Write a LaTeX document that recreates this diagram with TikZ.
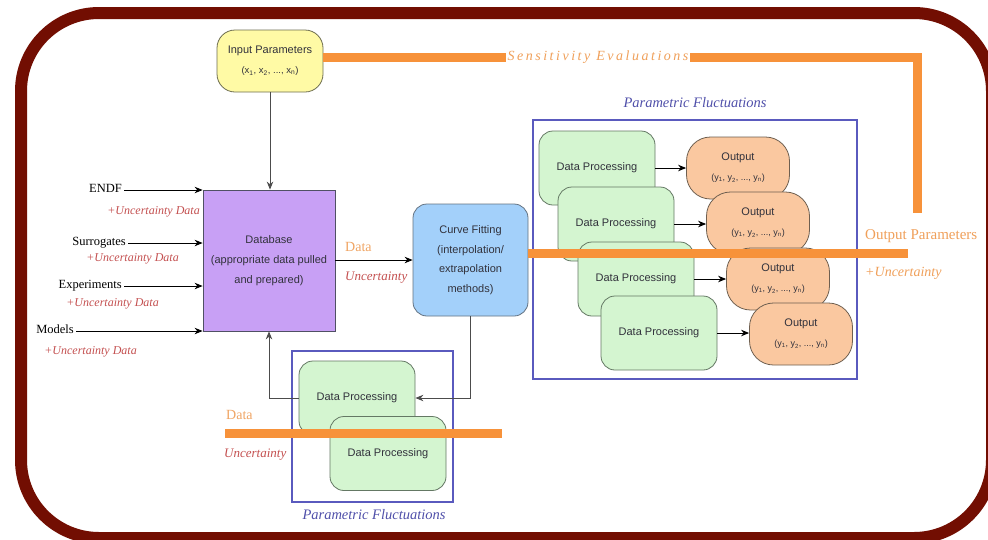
\documentclass[tikz,border=0pt]{standalone}
\usepackage{fontspec}
\setmainfont{Liberation Serif}
\setsansfont{Liberation Sans}
\newfontfamily\spacedserif[LetterSpace=18]{Liberation Serif}
\usetikzlibrary{arrows.meta}
\definecolor{framered}{RGB}{114,14,2}
\definecolor{barorange}{RGB}{247,146,58}
\definecolor{sensorange}{RGB}{240,160,90}
\definecolor{dataorange}{RGB}{240,165,100}
\definecolor{uncred}{RGB}{196,80,80}
\definecolor{pfblue}{RGB}{80,80,170}
\definecolor{pfbox}{RGB}{90,90,190}
\definecolor{dpfill}{RGB}{212,245,208}
\definecolor{dpline}{RGB}{100,120,100}
\definecolor{outfill}{RGB}{250,200,160}
\definecolor{outline}{RGB}{110,95,80}
\definecolor{dbfill}{RGB}{200,160,245}
\definecolor{dbline}{RGB}{80,80,100}
\definecolor{cffill}{RGB}{163,208,250}
\definecolor{cfline}{RGB}{100,115,130}
\definecolor{inpfill}{RGB}{255,250,165}
\definecolor{inpline}{RGB}{110,110,80}
\definecolor{boxtext}{RGB}{50,50,60}
\tikzset{
  boxfont/.style={font=\sffamily\fontsize{11}{20}\selectfont, text=boxtext, align=center, inner sep=0pt},
  dpbox/.style={boxfont, draw=dpline, fill=dpfill, rounded corners=14pt, minimum width=116pt, minimum height=74pt, line width=0.8pt},
  outbox/.style={boxfont, draw=outline, fill=outfill, rounded corners=24pt, minimum width=103pt, minimum height=62pt, line width=0.8pt},
  orangebar/.style={draw=barorange, line width=9pt},
  arr/.style={-{Stealth[length=8pt,width=6.5pt]}, line width=0.9pt, draw=black},
  grayarr/.style={-{Stealth[length=8pt,width=6.5pt]}, line width=0.9pt, draw=black!70},
  srclbl/.style={font=\fontsize{12.5}{14}\selectfont, inner sep=2pt, anchor=base east},
  unclbl/.style={text=uncred, font=\itshape\fontsize{12}{14}\selectfont, inner sep=0pt},
  datalbl/.style={text=dataorange, font=\fontsize{14}{16}\selectfont, inner sep=0pt},
  pfbox/.style={draw=pfbox, line width=2.2pt},
  pflbl/.style={text=pfblue, font=\itshape\fontsize{14.5}{16}\selectfont, inner sep=0pt},
  outlbl/.style={text=sensorange, inner sep=0pt, anchor=west}
}
\begin{document}
\begin{tikzpicture}[x=1pt,y=-1pt]
\useasboundingbox (0,0) rectangle (988,539);
\fill[white] (0,0) rectangle (988,539);
% frame
\draw[framered, line width=12pt, rounded corners=78pt] (21,13) rectangle (992,538);

% input parameters
\node[boxfont, draw=inpline, fill=inpfill, rounded corners=18pt, minimum width=106pt, minimum height=62pt, line width=0.8pt] (inp) at (270,61) {Input Parameters\\{\fontsize{9.5}{20}\selectfont (x\textsubscript{1}, x\textsubscript{2}, ..., x\textsubscript{n})}};

% sensitivity bar
\coordinate (tr) at (917,57);
\coordinate (vb) at (917,213);
\draw[orangebar, line join=miter] (inp.east |- tr) -- (tr) -- (vb);
\node[fill=white, inner sep=2pt, text=sensorange, font=\spacedserif\itshape\fontsize{14}{16}\selectfont] (sens) at (598,57) {Sensitivity Evaluations};

% database
\node[boxfont, draw=dbline, fill=dbfill, minimum width=132pt, minimum height=141pt, line width=0.8pt] (db) at (269,260.5) {Database\\(appropriate data pulled\\and prepared)};
\draw[grayarr] (inp.south) -- (inp.south |- db.north);

% sources
\node[srclbl] (endf) at (124,192) {ENDF};
\node[srclbl] (sur) at (128,245) {Surrogates};
\node[srclbl] (exp) at (124,288) {Experiments};
\node[srclbl] (mod) at (76,333) {Models};
\draw[arr] ([yshift=2pt]endf.base east) -- ([yshift=2pt]endf.base east -| db.west);
\draw[arr] ([yshift=2pt]sur.base east) -- ([yshift=2pt]sur.base east -| db.west);
\draw[arr] ([yshift=2pt]exp.base east) -- ([yshift=2pt]exp.base east -| db.west);
\draw[arr] ([yshift=2pt]mod.base east) -- ([yshift=2pt]mod.base east -| db.west);
\node[unclbl, anchor=east] (u1) at (200,212) {+Uncertainty Data};
\node[unclbl, anchor=east] (u2) at (179,259) {+Uncertainty Data};
\node[unclbl, anchor=east] (u3) at (159,304) {+Uncertainty Data};
\node[unclbl, anchor=east] (u4) at (137,352) {+Uncertainty Data};

% curve fitting
\node[boxfont, draw=cfline, fill=cffill, rounded corners=14pt, minimum width=115pt, minimum height=112pt, line width=0.8pt, font=\sffamily\fontsize{11}{19.5}\selectfont] (cf) at (470.5,260) {Curve Fitting\\(interpolation/\\extrapolation\\methods)};
\draw[arr] (db.east |- cf.west) -- (cf.west);
\node[datalbl, anchor=west] (d1) at (345,247) {Data};
\node[unclbl, anchor=west, font=\itshape\fontsize{13}{14}\selectfont] (un1) at (345,278) {Uncertainty};

% upper parametric fluctuations
\draw[pfbox] (533,120) rectangle (857,379);
\node[pflbl] (pf1) at (695,103) {Parametric Fluctuations};
\node[dpbox] (p1) at (597,168) {Data Processing};
\node[outbox] (o1) at (738,168) {Output\\{\fontsize{9}{20}\selectfont (y\textsubscript{1}, y\textsubscript{2}, ..., y\textsubscript{n})}};
\draw[arr] (p1.east) -- (p1.east -| o1.west);
\node[dpbox] (p2) at (616,224) {Data Processing};
\node[outbox] (o2) at (758,223) {Output\\{\fontsize{9}{20}\selectfont (y\textsubscript{1}, y\textsubscript{2}, ..., y\textsubscript{n})}};
\draw[arr] (p2.east) -- (p2.east -| o2.west);
\node[dpbox] (p3) at (636,279) {Data Processing};
\node[outbox] (o3) at (778,279) {Output\\{\fontsize{9}{20}\selectfont (y\textsubscript{1}, y\textsubscript{2}, ..., y\textsubscript{n})}};
\draw[arr] (p3.east) -- (p3.east -| o3.west);
\node[dpbox] (p4) at (659,333) {Data Processing};
\node[outbox] (o4) at (801,334) {Output\\{\fontsize{9}{20}\selectfont (y\textsubscript{1}, y\textsubscript{2}, ..., y\textsubscript{n})}};
\draw[arr] (p4.east) -- (p4.east -| o4.west);

% main output bar
\coordinate (mbE) at (908,253);
\draw[orangebar] (cf.east |- mbE) -- (mbE);
\node[outlbl, font=\fontsize{15}{16}\selectfont] (op) at (865,236) {Output Parameters};
\node[outlbl, font=\itshape\fontsize{14}{16}\selectfont] (opu) at (865,273) {+Uncertainty};

% lower parametric fluctuations
\draw[pfbox] (292,351) rectangle (453,502);
\node[pflbl] (pf2) at (374,515) {Parametric Fluctuations};
\node[dpbox] (pa) at (357,398) {Data Processing};
\node[dpbox] (pb) at (388,453.5) {Data Processing};
\draw[grayarr] (cf.south) |- (pa.east);
\draw[grayarr] (pa.west) -| (db.south);
\coordinate (lbW) at (225,433);
\coordinate (lbE) at (502,433);
\draw[orangebar] (lbW) -- (lbE);
\node[datalbl, anchor=west] (d2) at (226,415) {Data};
\node[unclbl, anchor=west, font=\itshape\fontsize{13}{14}\selectfont] (un2) at (224,455) {Uncertainty};
\end{tikzpicture}
\end{document}
